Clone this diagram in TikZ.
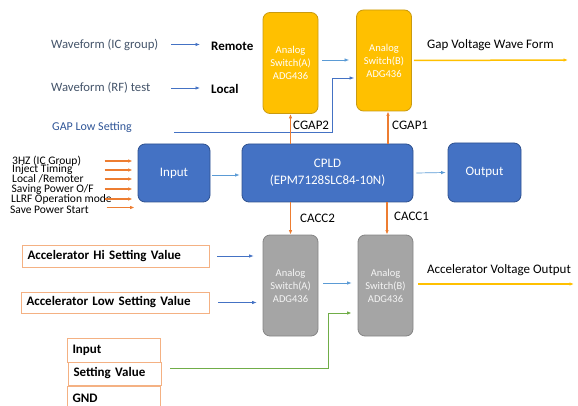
\documentclass[tikz,border=0pt]{standalone}
\usepackage{fontspec}
\setmainfont{Carlito}
\usetikzlibrary{arrows.meta}
\definecolor{bbox}{HTML}{4472C4}
\definecolor{bboxd}{HTML}{2F528F}
\definecolor{ybox}{HTML}{FFC000}
\definecolor{yboxd}{HTML}{C99A10}
\definecolor{gbox}{HTML}{A5A5A5}
\definecolor{gboxd}{HTML}{858585}
\definecolor{arrblue}{HTML}{4472C4}
\definecolor{arrlblue}{HTML}{5B9BD5}
\definecolor{arrorange}{HTML}{ED7D31}
\definecolor{tborder}{HTML}{F4B183}
\definecolor{wftext}{HTML}{44546A}
\definecolor{gaptext}{HTML}{2F5597}
\definecolor{grn}{HTML}{70AD47}
\begin{document}
\begin{tikzpicture}[x=1pt,y=-1pt,
  >={Latex[length=4.5pt,width=3.5pt]},
  bluebox/.style={draw=bboxd,fill=bbox,rounded corners=7pt,text=white,align=center,inner sep=0pt,line width=0.8pt,font=\fontsize{13}{17}\selectfont},
  swy/.style={draw=yboxd,fill=ybox,rounded corners=7pt,text=white,align=center,inner sep=0pt,line width=0.8pt,font=\fontsize{10.5}{13}\selectfont,minimum width=55pt,minimum height=101pt},
  swg/.style={swy,draw=gboxd,fill=gbox,text=white!92!gray},
  tbox/.style={draw=tborder,line width=1pt,inner xsep=5pt,inner ysep=0pt,font=\bfseries\fontsize{13}{15}\selectfont,align=left,anchor=west},
  lbl/.style={inner sep=0pt,anchor=west},
  wf/.style={lbl,text=wftext,font=\fontsize{12.7}{14}\selectfont},
  bl/.style={lbl,font=\bfseries\fontsize{13}{15}\selectfont},
  lst/.style={lbl,font=\fontsize{11.5}{12}\selectfont},
  cl/.style={lbl,font=\fontsize{13}{15}\selectfont},
  barr/.style={->,arrblue,line width=0.7pt},
  lbarr/.style={->,arrlblue,line width=0.7pt},
  oarr/.style={->,arrorange,line width=1.1pt},
  yarr/.style={->,ybox,line width=1.5pt},
]
\useasboundingbox (0,0) rectangle (578,406);

% switches
\node[swy] (swa) at (290.5,63) {Analog\\Switch(A)\\ADG436};
\node[swy] (swb) at (384,60.5) {Analog\\Switch(B)\\ADG436};
\node[swg] (gswa) at (290.5,285.5) {Analog\\Switch(A)\\ADG436};
\node[swg] (gswb) at (385.5,285.5) {Analog\\Switch(B)\\ADG436};

% blue blocks
\node[bluebox,minimum width=72pt,minimum height=58pt] (inp) at (174,173) {Input};
\node[bluebox,minimum width=171pt,minimum height=58pt] (cpld) at (327.5,173) {CPLD\\(EPM7128SLC84-10N)};
\node[bluebox,minimum width=73pt,minimum height=59pt] (out) at (484.5,172.5) {Output};

% top texts
\node[wf] (wf1) at (51,45) {Waveform (IC group)};
\node[bl] (rem) at (211,46) {Remote};
\node[wf] (wf2) at (51,88) {Waveform (RF) test};
\node[bl] (loc) at (211,89) {Local};
\node[lbl,text=gaptext,font=\fontsize{12}{14}\selectfont] (gap) at (52,127) {GAP Low Setting};
\draw[barr] ([xshift=-40pt,yshift=1.5pt]rem.west) -- ([xshift=-11pt,yshift=1.5pt]rem.west);
\draw[barr] ([xshift=-40pt,yshift=1pt]loc.west) -- ([xshift=-11pt,yshift=1pt]loc.west);

% gap low setting line
\coordinate (gapstart) at (174,132);
\coordinate (gapturn) at (332,132);
\draw[barr] (gapstart) -- (gapturn) |- ([xshift=-2pt,yshift=-17.5pt]swb.west);

\draw[lbarr] ([xshift=4pt,yshift=3pt]swa.east) -- ([xshift=-7pt,yshift=0.5pt]swb.west);

% gap voltage output
\coordinate (gapout) at (568,60);
\draw[yarr] ([xshift=2pt]swb.east) -- (gapout);
\node[cl] (gvw) at (427,45) {Gap Voltage Wave Form};

% CGAP
\draw[oarr] (cpld.north -| swa.south) -- (swa.south);
\node[cl] (cg2) at (293,125) {CGAP2};
\draw[oarr] ([xshift=4pt]cpld.north -| swb.south) -- ([xshift=4pt]swb.south);
\node[cl] (cg1) at (392,125) {CGAP1};

% left list
\node[lst] (l1) at (12,161) {3HZ (IC Group)};
\node[lst] (l2) at (12,170) {Inject Timing};
\node[lst] (l3) at (12,179) {Local /Remoter};
\node[lst] (l4) at (11.5,189) {Saving Power O/F};
\node[lst] (l5) at (11,199) {LLRF Operation mode};
\node[lst] (l6) at (10,209.5) {Save Power Start};
\foreach \n in {l1,l2,l3,l4,l5} {
  \draw[oarr] ([xshift=-33pt]inp.west |- \n.west) -- ([xshift=-5pt]inp.west |- \n.west);
}
\draw[oarr] ([xshift=-31pt,yshift=2pt]inp.west |- l6.west) -- ([xshift=-3pt,yshift=2pt]inp.west |- l6.west);

% input -> cpld -> output
\draw[lbarr] ([xshift=2pt,yshift=-2pt]inp.east) -- ([xshift=-2pt,yshift=-2pt]cpld.west);
\draw[lbarr] ([xshift=3pt]cpld.east) -- ([xshift=-2pt]out.west);

% CACC
\draw[oarr] (cpld.south -| gswa.north) -- (gswa.north);
\node[cl] (ca2) at (300,218) {CACC2};
\draw[oarr] ([xshift=1.5pt]cpld.south -| gswb.north) -- ([xshift=1.5pt]gswb.north);
\node[cl] (ca1) at (394,216) {CACC1};

% accelerator boxes
\node[tbox,text width=177pt,minimum height=22pt] (ahi) at (22,256) {Accelerator Hi Setting Value};
\node[tbox,text width=178pt,minimum height=21pt] (alo) at (21,302.5) {Accelerator Low Setting Value};
\draw[barr] ([xshift=7pt]ahi.east) -- ([xshift=-9pt]gswa.west |- ahi.east);
\draw[barr] ([xshift=8pt]alo.east) -- ([xshift=-6pt]gswa.west |- alo.east);

\draw[lbarr] ([xshift=5pt,yshift=2.5pt]gswa.east) -- ([xshift=-6pt,yshift=2.5pt]gswb.west);

% bottom boxes
\node[tbox,text width=83pt,minimum height=24pt] (bin) at (67,350) {Input};
\node[tbox,text width=83pt,minimum height=23pt] (bset) at (68,373.5) {Setting Value};
\node[tbox,text width=83pt,minimum height=24pt] (bgnd) at (67,398) {GND};

% green line
\coordinate (gstart) at (170,368);
\coordinate (gturn) at (328,368);
\draw[->,grn,line width=0.9pt] (gstart) -- (gturn) |- ([xshift=-6pt,yshift=-27.5pt]gswb.west);

% accelerator output
\coordinate (accout) at (574,284);
\draw[yarr] ([xshift=5pt,yshift=1.5pt]gswb.east) -- (accout);
\node[cl] (avo) at (427,270) {Accelerator Voltage Output};
\end{tikzpicture}
\end{document}
